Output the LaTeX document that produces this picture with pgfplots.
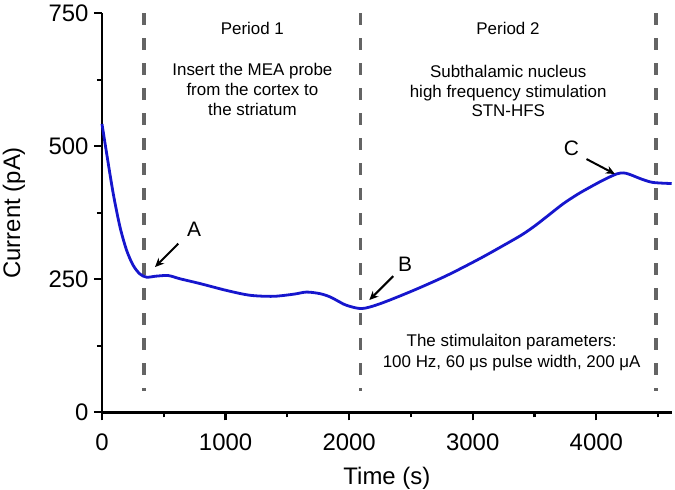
\documentclass[border=0pt]{standalone}
\usepackage{fontspec}
\setmainfont{Liberation Sans}
\usepackage{pgfplots}
\pgfplotsset{compat=1.18}
\usetikzlibrary{arrows.meta}
\definecolor{curveblue}{RGB}{22,22,205}
\definecolor{dashgray}{RGB}{100,100,100}
\begin{document}
\begin{tikzpicture}
\begin{axis}[
  scale only axis, width=569.7bp, height=399bp,
  xmin=0, xmax=4610, ymin=0, ymax=750,
  axis x line*=bottom, axis y line*=left,
  axis line style={line width=2.6bp, black},
  xtick={0,1000,2000,3000,4000}, minor xtick={500,1500,2500,3500,4500},
  ytick={0,250,500,750}, minor ytick={125,375,625},
  tick align=outside, major tick length=8bp, minor tick length=5bp,
  every tick/.style={line width=2.2bp, black},
  every minor tick/.style={line width=2.2bp, black},
  ticklabel style={font=\fontsize{24}{28}\selectfont},
  xticklabel style={yshift=-10bp},
  yticklabel style={xshift=-2bp},
  /pgf/number format/assume math mode=true,
  scaled ticks=false, xticklabel style={/pgf/number format/1000 sep={}},
  xlabel={Time (s)}, ylabel={Current (pA)},
  label style={font=\fontsize{24}{28}\selectfont},
  xlabel style={at={(axis description cs:0.5,-0.166)}, anchor=center},
  ylabel style={at={(axis description cs:-0.1545,0.5)}, anchor=center},
  clip=false,
]
\addplot[dashgray, line width=3.5bp, dash pattern=on 12bp off 13bp] coordinates {(340,750) (340,40)};
\addplot[dashgray, line width=3.5bp, dash pattern=on 12bp off 13bp] coordinates {(2090,750) (2090,40)};
\addplot[dashgray, line width=3.5bp, dash pattern=on 12bp off 13bp] coordinates {(4482,750) (4482,40)};
\addplot[curveblue, line width=2.8bp, smooth] coordinates {
(0,542) (38,486) (91,411) (146,348) (200,304) (253,276) (307,260) (361,254)
(442,256) (537,257) (631,251) (793,242) (1009,229) (1197,220) (1386,218)
(1550,222) (1656,226) (1764,223) (1845,217) (1926,207) (1980,201) (2101,195)
(2249,204) (2519,229) (2789,257) (3058,289) (3274,317) (3400,334) (3500,350)
(3600,368) (3732,392) (3850,410) (3948,423) (4060,437) (4164,448) (4220,450)
(4272,447) (4370,438) (4461,432) (4610,430)};
\draw[black, line width=2bp, -{Stealth[length=9bp,width=8bp]}] (617,317) -- (429,273);
\draw[black, line width=2bp, -{Stealth[length=9bp,width=8bp]}] (2357,256) -- (2163,211);
\draw[black, line width=2bp, -{Stealth[length=9bp,width=8bp]}] (3921,476) -- (4150,448);
\node[font=\fontsize{21}{25}\selectfont] at (745,344) {A};
\node[font=\fontsize{21}{25}\selectfont] at (2452,278) {B};
\node[font=\fontsize{21}{25}\selectfont] at (3798,497) {C};
\node[font=\fontsize{17}{20}\selectfont] at (1217,722) {Period 1};
\node[font=\fontsize{17}{20}\selectfont, align=center] at (1217,607) {Insert the MEA probe\\from the cortex to\\the striatum};
\node[font=\fontsize{17}{20}\selectfont] at (3285,722) {Period 2};
\node[font=\fontsize{17}{20}\selectfont, align=center] at (3287,604) {Subthalamic nucleus\\high frequency stimulation\\STN-HFS};
\node[font=\fontsize{17}{21.6}\selectfont, align=center] at (3315,112) {The stimulaiton parameters:\\100 Hz, 60 μs pulse width, 200 μA};
\end{axis}
\pgfresetboundingbox
\path[use as bounding box] (-102bp,-77.7bp) rectangle (573bp,412.3bp);
\end{tikzpicture}
\end{document}
